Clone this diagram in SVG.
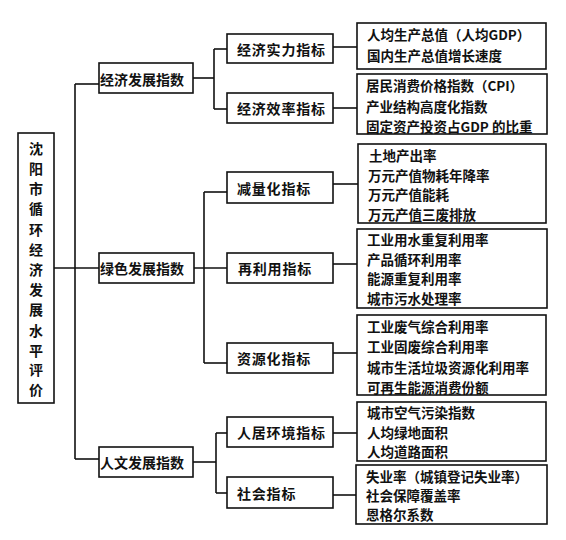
<svg xmlns="http://www.w3.org/2000/svg" width="566" height="540" viewBox="0 0 566 540">
<style>
.box{fill:#fff;stroke:#111;stroke-width:1.6}
.t{font-family:"Noto Sans CJK SC","Liberation Sans",sans-serif;font-weight:bold;font-size:14px;fill:#111;dominant-baseline:central}
.s{font-size:13.5px}
.c line{stroke:#111;stroke-width:1.6}
</style>
<rect width="566" height="540" fill="#fff"/>
<g class="c" id="connectors">
<line x1="54" y1="268" x2="99" y2="268"/>
<line x1="75" y1="84" x2="75" y2="459"/>
<line x1="75" y1="84" x2="99" y2="84"/>
<line x1="75" y1="459" x2="99" y2="459"/>
<line x1="193" y1="78" x2="214" y2="78"/>
<line x1="214" y1="49" x2="214" y2="109"/>
<line x1="214" y1="49" x2="227" y2="49"/>
<line x1="214" y1="109" x2="227" y2="109"/>
<line x1="194" y1="268" x2="227" y2="268"/>
<line x1="204" y1="192" x2="204" y2="363"/>
<line x1="204" y1="192" x2="227" y2="192"/>
<line x1="204" y1="363" x2="227" y2="363"/>
<line x1="193" y1="462" x2="216" y2="462"/>
<line x1="216" y1="433" x2="216" y2="493"/>
<line x1="216" y1="433" x2="227" y2="433"/>
<line x1="216" y1="493" x2="227" y2="493"/>
<line x1="333" y1="47" x2="357" y2="47"/>
<line x1="333" y1="108" x2="357" y2="108"/>
<line x1="333" y1="184" x2="358" y2="184"/>
<line x1="333" y1="264" x2="357" y2="264"/>
<line x1="333" y1="353" x2="357" y2="353"/>
<line x1="333" y1="433" x2="357" y2="433"/>
<line x1="333" y1="495" x2="356" y2="495"/>
</g>
<g id="root">
<rect class="box" x="18" y="133" width="36" height="270"/>
<g class="t" text-anchor="middle">
<text x="36" y="148">沈</text><text x="36" y="168">阳</text><text x="36" y="188">市</text><text x="36" y="208">循</text><text x="36" y="229">环</text><text x="36" y="249">经</text><text x="36" y="269">济</text><text x="36" y="289">发</text><text x="36" y="309">展</text><text x="36" y="330">水</text><text x="36" y="350">平</text><text x="36" y="369">评</text><text x="36" y="389">价</text>
</g>
</g>
<g id="n-econ"><rect class="box" x="99" y="63" width="94" height="30"/><text class="t" x="100" y="79">经济发展指数</text></g>
<g id="n-green"><rect class="box" x="99" y="253" width="95" height="30"/><text class="t" x="100" y="268">绿色发展指数</text></g>
<g id="n-human"><rect class="box" x="99" y="447" width="94" height="30"/><text class="t" x="100" y="462">人文发展指数</text></g>
<g id="n-econ-strength"><rect class="box" x="227" y="34" width="106" height="29"/><text class="t" x="237" y="49" letter-spacing="0.8">经济实力指标</text></g>
<g id="n-econ-eff"><rect class="box" x="227" y="93" width="106" height="30"/><text class="t" x="237" y="108" letter-spacing="0.8">经济效率指标</text></g>
<g id="n-reduce"><rect class="box" x="227" y="172" width="106" height="31"/><text class="t" x="237" y="188" letter-spacing="0.8">减量化指标</text></g>
<g id="n-reuse"><rect class="box" x="227" y="253" width="106" height="30"/><text class="t" x="238" y="268" letter-spacing="0.8">再利用指标</text></g>
<g id="n-resource"><rect class="box" x="227" y="343" width="106" height="30"/><text class="t" x="237" y="358" letter-spacing="0.8">资源化指标</text></g>
<g id="n-living"><rect class="box" x="227" y="417" width="106" height="30"/><text class="t" x="237" y="432" letter-spacing="0.8">人居环境指标</text></g>
<g id="n-social"><rect class="box" x="227" y="477" width="106" height="31"/><text class="t" x="237" y="493" letter-spacing="0.8">社会指标</text></g>
<g id="l-1"><rect class="box" x="357" y="23" width="189" height="46"/>
<text class="t s" x="367" y="34">人均生产总值（人均GDP）</text>
<text class="t s" x="367" y="55">国内生产总值增长速度</text></g>
<g id="l-2"><rect class="box" x="357" y="74" width="190" height="60"/>
<text class="t s" x="366" y="85">居民消费价格指数（CPI）</text>
<text class="t s" x="366" y="106">产业结构高度化指数</text>
<text class="t s" x="366" y="126">固定资产投资占GDP 的比重</text></g>
<g id="l-3"><rect class="box" x="358" y="144" width="188" height="79"/>
<text class="t s" x="369" y="155">土地产出率</text>
<text class="t s" x="368" y="175">万元产值物耗年降率</text>
<text class="t s" x="368" y="194">万元产值能耗</text>
<text class="t s" x="368" y="214">万元产值三废排放</text></g>
<g id="l-4"><rect class="box" x="357" y="229" width="190" height="79"/>
<text class="t s" x="367" y="239">工业用水重复利用率</text>
<text class="t s" x="367" y="259">产品循环利用率</text>
<text class="t s" x="367" y="278">能源重复利用率</text>
<text class="t s" x="367" y="298">城市污水处理率</text></g>
<g id="l-5"><rect class="box" x="357" y="315" width="189" height="80"/>
<text class="t s" x="367" y="326">工业废气综合利用率</text>
<text class="t s" x="367" y="346">工业固废综合利用率</text>
<text class="t s" x="367" y="367">城市生活垃圾资源化利用率</text>
<text class="t s" x="367" y="387">可再生能源消费份额</text></g>
<g id="l-6"><rect class="box" x="357" y="402" width="189" height="59"/>
<text class="t s" x="367" y="412">城市空气污染指数</text>
<text class="t s" x="367" y="432">人均绿地面积</text>
<text class="t s" x="367" y="451">人均道路面积</text></g>
<g id="l-7"><rect class="box" x="356" y="465" width="191" height="59"/>
<text class="t s" x="366" y="476">失业率（城镇登记失业率）</text>
<text class="t s" x="366" y="495">社会保障覆盖率</text>
<text class="t s" x="366" y="514">恩格尔系数</text></g>
</svg>
